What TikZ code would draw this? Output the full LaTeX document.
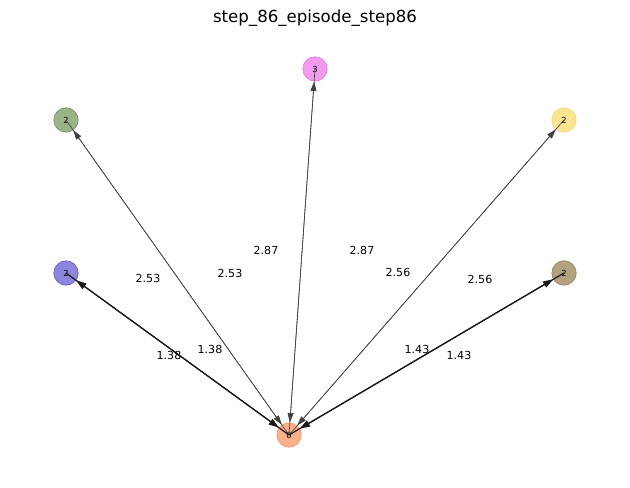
\documentclass[tikz,border=0pt]{standalone}
\usepackage{fontspec}
\setmainfont{DejaVu Sans}
\usetikzlibrary{arrows.meta}

\definecolor{salmonfill}{RGB}{250,176,140}
\definecolor{salmonline}{RGB}{246,158,118}
\definecolor{violetfill}{RGB}{240,155,238}
\definecolor{violetline}{RGB}{228,128,226}
\definecolor{olivefill}{RGB}{153,178,136}
\definecolor{oliveline}{RGB}{118,152,98}
\definecolor{yellowfill}{RGB}{250,230,146}
\definecolor{yellowline}{RGB}{244,218,118}
\definecolor{bluefill}{RGB}{142,134,220}
\definecolor{blueline}{RGB}{108,98,204}
\definecolor{brownfill}{RGB}{178,162,128}
\definecolor{brownline}{RGB}{152,134,98}

\begin{document}
\begin{tikzpicture}[
    x=0.254mm, y=-0.254mm,
    agent/.style={circle, inner sep=0pt, minimum size=6.2mm, line width=0.5pt, font=\fontsize{6}{7}\selectfont},
    thinedge/.style={draw=black!75, line width=0.45pt, -{Triangle[length=2.4mm, width=1.5mm]}},
    thickedge/.style={draw=black!90, line width=0.85pt, -{Triangle[length=2.6mm, width=1.7mm]}},
    weight/.style={font=\fontsize{8}{9}\selectfont}
]
\useasboundingbox (0,0) rectangle (630,488);

% Title
\node[font=\fontsize{12}{14}\selectfont] (title) at (315,18) {step\_86\_episode\_step86};

% Nodes
\node[agent, fill=salmonfill, draw=salmonline] (n0) at (289,435) {0};
\node[agent, fill=violetfill, draw=violetline] (n3) at (315,69) {3};
\node[agent, fill=olivefill, draw=oliveline] (g2) at (66,120) {2};
\node[agent, fill=yellowfill, draw=yellowline] (y2) at (564,120) {2};
\node[agent, fill=bluefill, draw=blueline] (b2) at (66,273) {2};
\node[agent, fill=brownfill, draw=brownline] (k2) at (564,273) {2};

% Edges, both directions
\draw[thinedge] (n0.center) -- (n3);
\draw[thinedge] (n3.center) -- (n0);
\draw[thinedge] (n0.center) -- (g2);
\draw[thinedge] (g2.center) -- (n0);
\draw[thinedge] (n0.center) -- (y2);
\draw[thinedge] (y2.center) -- (n0);
\draw[thickedge] (n0.center) -- (b2);
\draw[thickedge] (b2.center) -- (n0);
\draw[thickedge] (n0.center) -- (k2);
\draw[thickedge] (k2.center) -- (n0);

% Edge weights
\node[weight] (w3a) at (266,250) {2.87};
\node[weight] (w3b) at (362,250) {2.87};
\node[weight] (wga) at (148,278) {2.53};
\node[weight] (wgb) at (230,273) {2.53};
\node[weight] (wya) at (398,272) {2.56};
\node[weight] (wyb) at (480,279) {2.56};
\node[weight] (wba) at (169,355) {1.38};
\node[weight] (wbb) at (210,349) {1.38};
\node[weight] (wka) at (417,349) {1.43};
\node[weight] (wkb) at (459,355) {1.43};

\end{tikzpicture}
\end{document}
